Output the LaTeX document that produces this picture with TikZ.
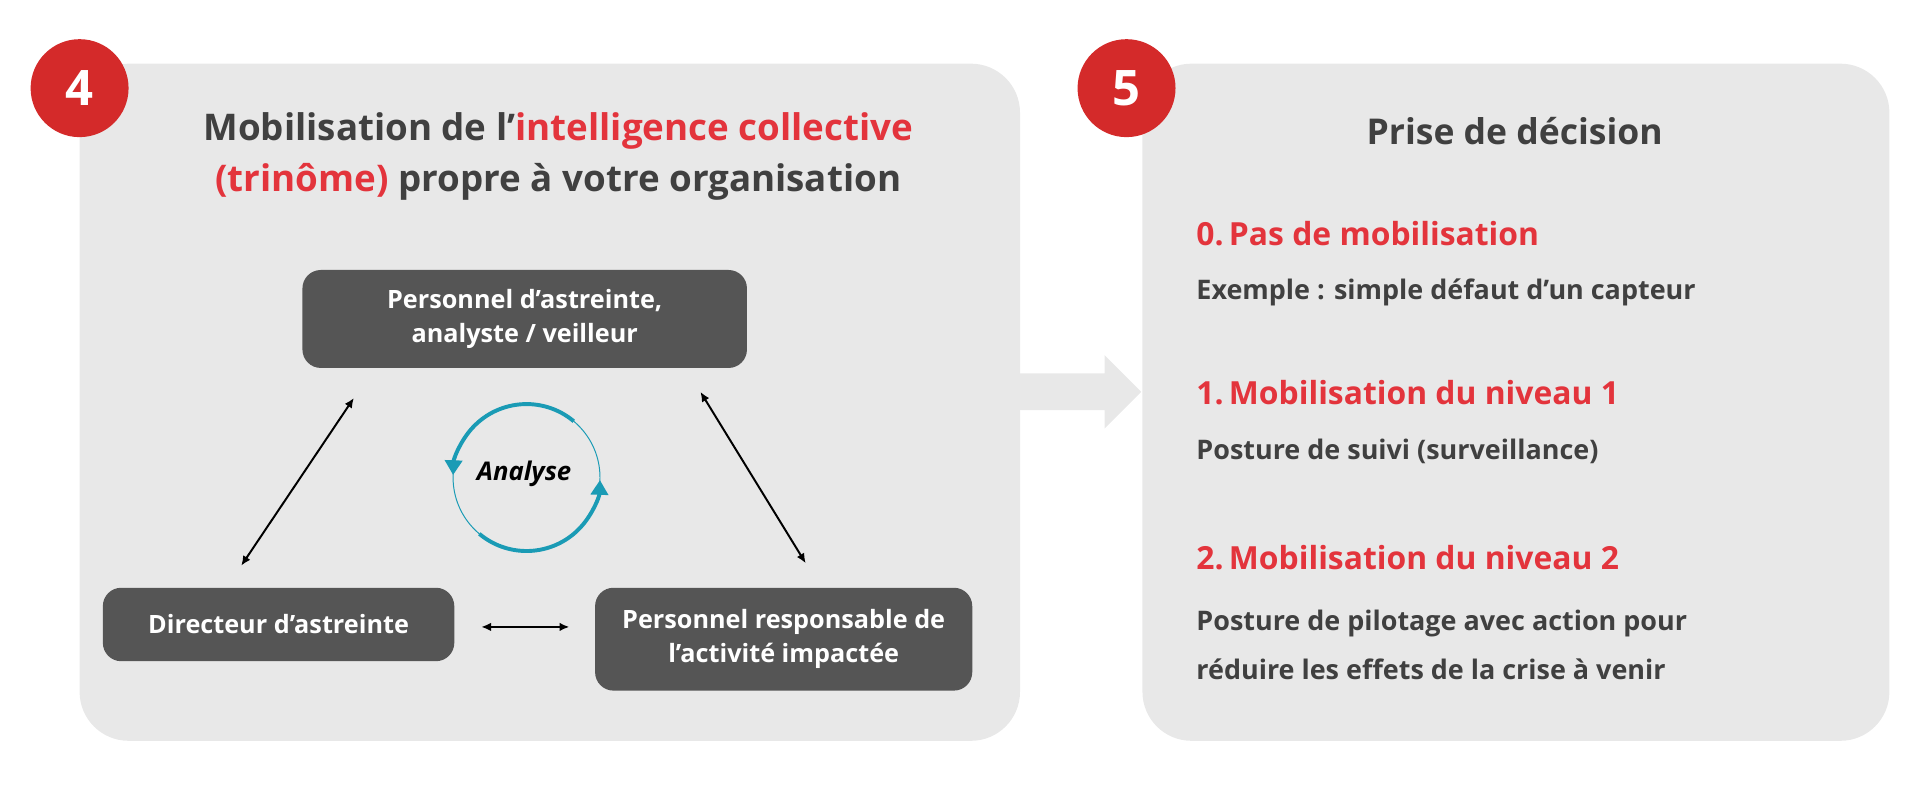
\documentclass[tikz,border=0pt]{standalone}
\usepackage{fontspec}
\setmainfont{Open Sans}
\usetikzlibrary{arrows.meta}
\definecolor{panel}{HTML}{E8E8E8}
\definecolor{badge}{HTML}{D42A2A}
\definecolor{boxc}{HTML}{555555}
\definecolor{txt}{HTML}{404040}
\definecolor{redt}{HTML}{E3343C}
\definecolor{teal}{HTML}{1A9BB5}
\begin{document}
\begin{tikzpicture}[x=0.5pt,y=-0.5pt,
  panelst/.style={fill=panel,draw=none,rounded corners=20pt},
  badgest/.style={circle,fill=badge,minimum size=40pt,inner sep=0,text=white,font=\bfseries\fontsize{20}{24}\selectfont},
  box/.style={fill=boxc,rounded corners=7.5pt,text=white,align=center,font=\bfseries\fontsize{10.3}{14}\selectfont},
  conn/.style={{Latex[length=4pt,width=3.5pt]}-{Latex[length=4pt,width=3.5pt]},line width=0.8pt,black},
  head/.style={text=redt,anchor=west,font=\bfseries\fontsize{13}{15}\selectfont},
  body/.style={text=txt,anchor=west,font=\bfseries\fontsize{11}{20}\selectfont,align=left},
  cyc/.style={teal,line width=1.6pt,-{Triangle[length=6pt,width=7pt]}}]
\useasboundingbox (0,0) rectangle (1568,656);
\fill[panelst] (65,52) rectangle (833,605);
\fill[panelst] (933,52) rectangle (1543,605);
\fill[panel] (833,305) -- (902,305) -- (902,290) -- (932,320) -- (902,350) -- (902,335) -- (833,335) -- cycle;
\node[badgest] (b4) at (65,72) {4};
\node[badgest] (b5) at (920,72) {5};
\node[text=txt,align=center,font=\bfseries\fontsize{15}{21}\selectfont] (t4) at (456,128)
  {Mobilisation de l’\textcolor{redt}{intelligence collective}\\\textcolor{redt}{(trinôme)} propre à votre organisation};
\node[text=txt,font=\bfseries\fontsize{14.5}{16}\selectfont] (t5) at (1237,107) {Prise de décision};
\node[box,minimum width=181.5pt,minimum height=40pt] (p1) at (428.5,260.5) {Personnel d’astreinte,\\analyste / veilleur};
\node[box,minimum width=143.5pt,minimum height=30pt] (p2) at (227.5,510) {Directeur d’astreinte};
\node[box,minimum width=154pt,minimum height=42pt] (p3) at (640,522) {Personnel responsable de\\l’activité impactée};
\coordinate (a1) at (289,325); \coordinate (a2) at (197,462);
\coordinate (a3) at (572,320); \coordinate (a4) at (658,460);
\coordinate (a5) at (393,512); \coordinate (a6) at (465,512);
\draw[conn] (a1) -- (a2);
\draw[conn] (a3) -- (a4);
\draw[conn] (a5) -- (a6);
\node[font=\bfseries\itshape\fontsize{10.5}{12}\selectfont] (an) at (428,387) {Analyse};
\coordinate (cc) at (430,390);
\draw[teal,line width=0.4pt] (cc) circle[radius=60];
\draw[cyc] ([shift={(-50:60)}]cc) arc[start angle=-50,end angle=-178,radius=60];
\draw[cyc] ([shift={(130:60)}]cc) arc[start angle=130,end angle=2,radius=60];
\node[head] (h0) at (970,191) {0.\,Pas de mobilisation};
\node[body] (d0) at (970,239) {Exemple : simple défaut d’un capteur};
\node[head] (h1) at (970,321) {1.\,Mobilisation du niveau 1};
\node[body] (d1) at (970,369) {Posture de suivi (surveillance)};
\node[head] (h2) at (970,455) {2.\,Mobilisation du niveau 2};
\node[body] (d2) at (970,527) {Posture de pilotage avec action pour\\réduire les effets de la crise à venir};
\end{tikzpicture}
\end{document}
